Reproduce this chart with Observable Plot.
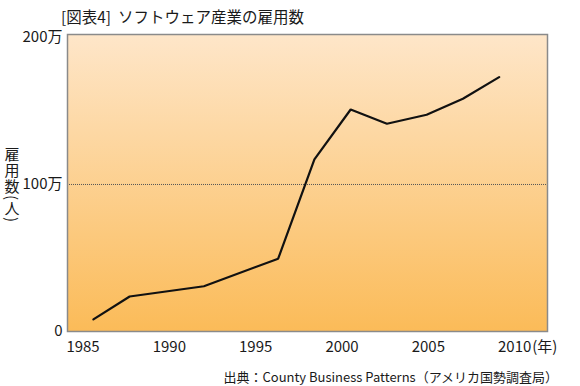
<!DOCTYPE html>
<html><head><meta charset="utf-8">
<script src="https://cdn.jsdelivr.net/npm/d3@7"></script>
<script src="https://cdn.jsdelivr.net/npm/@observablehq/plot@0.6"></script>
<style>
body{margin:0;background:#fff;}
#chart{position:relative;width:580px;height:386px;}
svg{display:block}
</style>
</head><body><div id="chart"></div>
<script>
const years = [1985.6, 1987.7, 1992.0, 1996.3, 1998.4, 2000.5, 2002.6, 2004.9, 2007.0, 2009.1];
const employment = [82000, 238000, 308000, 495000, 1170000, 1510000, 1413000, 1474000, 1583000, 1730000];
const xTicks = [1985, 1990, 1995, 2000, 2005, 2010];
const yTicks = [0, 1000000, 2000000];
const yTickLabels = ["0", "100万", "200万"];
const title = "[図表4]  ソフトウェア産業の雇用数";
const yLabel = "雇用数(人)";
const xUnit = "(年)";
const caption = "出典：County Business Patterns（アメリカ国勢調査局）";

const data = years.map((y, i) => ({year: y, value: employment[i]}));
const font = "'Noto Sans CJK JP', 'Noto Sans', sans-serif";

const svg = Plot.plot({
  width: 580, height: 386,
  marginLeft: 67, marginRight: 33, marginTop: 34, marginBottom: 55,
  style: {fontFamily: font, fontSize: "15px", color: "#1a1a1a", background: "#fff"},
  x: {domain: [1984.1, 2011.9], axis: null},
  y: {domain: [0, 2020000], axis: null},
  marks: [
    Plot.frame({fill: "url(#bg)", stroke: "none"}),
    Plot.ruleY([1000000], {stroke: "#555", strokeWidth: 1, strokeDasharray: "1,1"}),
    Plot.line(data, {x: "year", y: "value", stroke: "#111", strokeWidth: 2.2, strokeLinejoin: "miter"}),
    Plot.frame({stroke: "#8a8a8a", strokeWidth: 1.5}),
    Plot.axisX(xTicks, {tickSize: 0, tickPadding: 10, fontSize: 15, tickFormat: d => String(d), label: null}),
    Plot.axisY(yTicks, {tickSize: 0, tickPadding: 5, fontSize: 15, tickFormat: d => yTickLabels[yTicks.indexOf(d)], label: null})
  ]
});

const s = d3.select(svg);
const g = s.insert("defs", ":first-child").append("linearGradient")
  .attr("id", "bg").attr("x1", 0).attr("y1", 0).attr("x2", 0).attr("y2", 1);
g.append("stop").attr("offset", "0%").attr("stop-color", "#FEE6C9");
g.append("stop").attr("offset", "100%").attr("stop-color", "#FBBB58");

const xs = svg.scale("x");
s.append("text").attr("x", xs.apply(2010) + 18).attr("y", 331 + 10).attr("dy", "0.71em")
  .attr("text-anchor", "start")
  .attr("font-size", 15).attr("fill", "#1a1a1a").text(xUnit);

s.append("text").attr("x", 61).attr("y", 23).attr("text-anchor", "start")
  .attr("font-size", 15.5).attr("fill", "#1a1a1a").text(title);

s.append("text").attr("x", 12).attr("y", 147).attr("text-anchor", "start")
  .attr("font-size", 15).attr("letter-spacing", 1).attr("fill", "#1a1a1a")
  .style("writing-mode", "vertical-rl")
  .text(yLabel);

s.append("text").attr("x", 558).attr("y", 382).attr("text-anchor", "end")
  .attr("font-size", 13).attr("fill", "#1a1a1a").text(caption);

document.getElementById("chart").appendChild(svg);
</script>
</body></html>
